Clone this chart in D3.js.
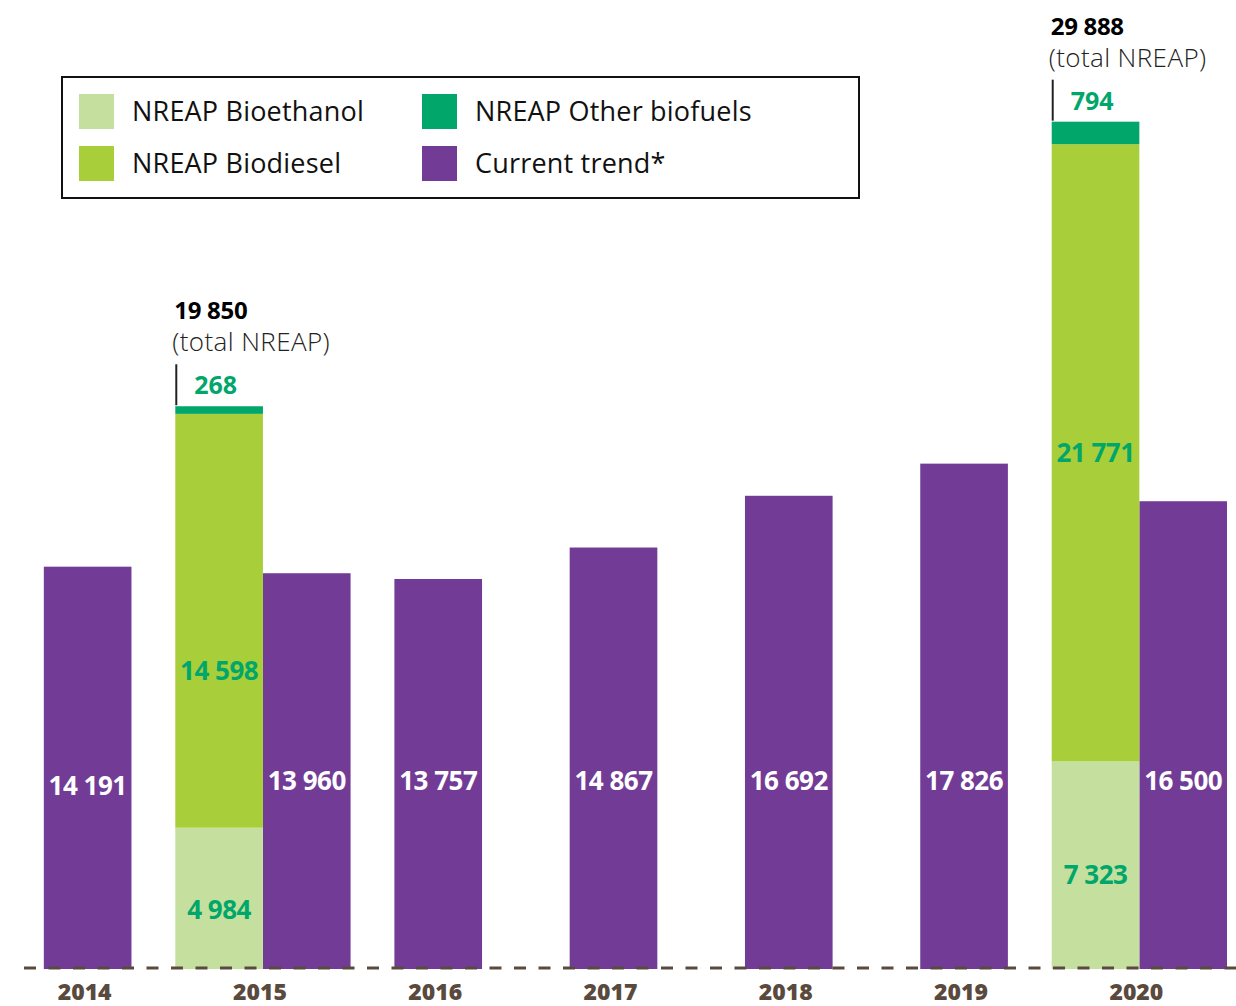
<!DOCTYPE html>
<html>
<head>
<meta charset="utf-8">
<script src="https://cdn.jsdelivr.net/npm/d3@7"></script>
<style>
  html, body { margin: 0; padding: 0; background: #fff; }
  svg { display: block; font-family: "Open Sans", "Noto Sans", sans-serif; }
</style>
</head>
<body>
<svg id="chart" width="1236" height="1006"></svg>
<script>
// ---- Data ----
const years = ["2014", "2015", "2016", "2017", "2018", "2019", "2020"];
const trend = [14191, 13960, 13757, 14867, 16692, 17826, 16500];
const nreapYears = ["2015", "2020"];
const bioethanol = [4984, 7323];
const biodiesel = [14598, 21771];
const otherBiofuels = [268, 794];
const nreapTotal = [19850, 29888];
const legendLabels = ["NREAP Bioethanol", "NREAP Biodiesel", "NREAP Other biofuels", "Current trend*"];

// ---- Styles ----
const C = {
  purple: "#723C96",
  bioeth: "#C5E09E",
  biodiesel: "#A8CE3A",
  other: "#00A66A",
  greenText: "#00A66A",
  axis: "#5A4A3E"
};

const svg = d3.select("#chart");
const fmt = d3.formatLocale({ decimal: ".", thousands: " ", grouping: [3], currency: ["", ""] }).format(",d");

const baseY = 969;
const y = d3.scaleLinear().domain([0, 30000]).range([baseY, baseY - 850.5]);
const x = d3.scaleBand().domain(years).range([0, 1227]).paddingInner(0).paddingOuter(0);
const bw = x.bandwidth() / 2;
const sub = d3.scaleBand().domain(["nreap", "trend"]).range([0, x.bandwidth()]);

function trendX(yr) {
  return nreapYears.includes(yr) ? x(yr) + sub("trend") : x(yr) + x.bandwidth() / 4;
}

// ---- Trend bars ----
const trendData = years.map((yr, i) => ({ year: yr, value: trend[i] }));
svg.append("g").selectAll("rect").data(trendData).join("rect")
  .attr("x", d => trendX(d.year))
  .attr("width", bw)
  .attr("y", d => y(d.value))
  .attr("height", d => y(0) - y(d.value))
  .attr("fill", C.purple);

// ---- NREAP stacked bars ----
const nreapData = nreapYears.map((yr, i) => ({ year: yr, bioethanol: bioethanol[i], biodiesel: biodiesel[i], other: otherBiofuels[i] }));
const stack = d3.stack().keys(["bioethanol", "biodiesel", "other"]);
const series = stack(nreapData);
const fills = { bioethanol: C.bioeth, biodiesel: C.biodiesel, other: C.other };
svg.append("g").selectAll("g").data(series).join("g")
  .attr("fill", s => fills[s.key])
  .selectAll("rect").data(s => s).join("rect")
  .attr("x", d => x(d.data.year) + sub("nreap"))
  .attr("width", bw)
  .attr("y", d => y(d[1]))
  .attr("height", d => y(d[0]) - y(d[1]));

// ---- Baseline (dashed) ----
svg.append("line")
  .attr("x1", 24).attr("x2", 1236)
  .attr("y1", baseY - 1).attr("y2", baseY - 1)
  .attr("stroke", C.axis).attr("stroke-width", 3)
  .attr("stroke-dasharray", "12,12.5");

// ---- Year labels ----
const xAxis = d3.axisBottom(x).tickSize(0).tickPadding(0);
const ax = svg.append("g").attr("transform", `translate(-3, ${baseY + 31})`).call(xAxis);
ax.select(".domain").remove();
ax.selectAll("text")
  .attr("dy", "0")
  .attr("font-family", "'Open Sans', sans-serif")
  .attr("font-size", 23).attr("font-weight", 800)
  .attr("fill", C.axis);

// ---- Trend value labels ----
svg.append("g").selectAll("text").data(trendData).join("text")
  .attr("x", d => trendX(d.year) + bw / 2)
  .attr("y", (d, i) => y(6300) + (i === 0 ? 5 : 0))
  .attr("text-anchor", "middle")
  .attr("font-size", 26).attr("font-weight", 700)
  .attr("fill", "#fff")
  .attr("letter-spacing", "-0.5")
  .text(d => fmt(d.value));

// ---- NREAP segment labels ----
const segOffsets = { bioethanol: [12, 10], biodiesel: [50, 0] };
["bioethanol", "biodiesel"].forEach(key => {
  const s = series.find(v => v.key === key);
  svg.append("g").selectAll("text").data(s).join("text")
    .attr("x", d => x(d.data.year) + sub("nreap") + bw / 2)
    .attr("y", (d, i) => (y(d[0]) + y(d[1])) / 2 + segOffsets[key][i] + 9)
    .attr("text-anchor", "middle")
    .attr("font-size", 26).attr("font-weight", 700)
    .attr("fill", C.greenText)
    .attr("letter-spacing", "-0.5")
    .text(d => fmt(d[1] - d[0]));
});

// ---- Totals annotations ----
nreapYears.forEach((yr, i) => {
  const left = x(yr) + sub("nreap");
  const top = y(nreapTotal[i]);
  const g = svg.append("g");
  g.append("line")
    .attr("x1", left + 1).attr("x2", left + 1)
    .attr("y1", top - 42).attr("y2", top - 1)
    .attr("stroke", "#222").attr("stroke-width", 2);
  g.append("text")
    .attr("x", left + 19).attr("y", top - 12)
    .attr("font-size", 25).attr("font-weight", 700)
    .attr("fill", C.greenText)
    .text(fmt(otherBiofuels[i]));
  g.append("text")
    .attr("x", left - 3).attr("y", top - 55)
    .attr("font-size", 26).attr("font-weight", 300)
    .attr("letter-spacing", "0.4")
    .attr("fill", "#222")
    .text("(total NREAP)");
  g.append("text")
    .attr("x", left - 1).attr("y", top - 87)
    .attr("font-size", 24).attr("font-weight", 700)
    .attr("fill", "#000")
    .attr("letter-spacing", "-0.3")
    .text(fmt(nreapTotal[i]));
});

// ---- Legend ----
const lg = svg.append("g");
lg.append("rect")
  .attr("x", 62).attr("y", 77).attr("width", 797).attr("height", 121)
  .attr("fill", "none").attr("stroke", "#111").attr("stroke-width", 2);
const legendColors = [C.bioeth, C.biodiesel, C.other, C.purple];
const legendItems = legendLabels.map((l, i) => ({ label: l, color: legendColors[i], col: Math.floor(i / 2), row: i % 2 }));
const li = lg.selectAll("g.item").data(legendItems).join("g")
  .attr("transform", d => `translate(${79 + d.col * 343}, ${94 + d.row * 52})`);
li.append("rect").attr("width", 35).attr("height", 35).attr("fill", d => d.color);
li.append("text")
  .attr("x", 53).attr("y", 27)
  .attr("font-size", 27).attr("font-weight", 400)
  .attr("letter-spacing", "0.2")
  .attr("fill", "#111")
  .text(d => d.label);
</script>
</body>
</html>
